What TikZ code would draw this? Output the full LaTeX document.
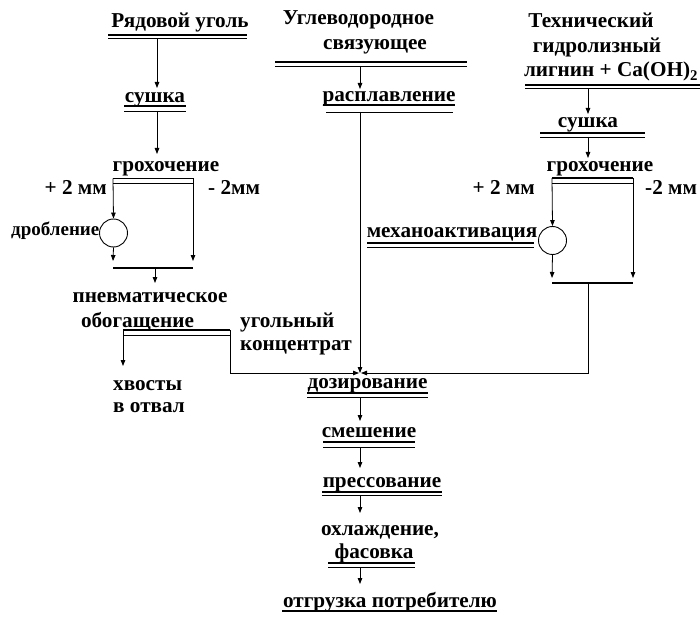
\documentclass[tikz,border=0pt]{standalone}
\usepackage{fontspec}
\setmainfont{Liberation Serif}
\usetikzlibrary{arrows.meta}
\begin{document}
\begin{tikzpicture}[x=1pt,y=-1pt,
  font=\fontsize{21.2}{24}\selectfont\bfseries,
  lbl/.style={inner sep=0pt, anchor=base},
  lw/.style={inner sep=0pt, anchor=base west},
  le/.style={inner sep=0pt, anchor=base east},
  thk/.style={line width=1.6pt},
  thn/.style={line width=0.6pt},
  ln/.style={line width=0.8pt},
  arr/.style={ln,-{Triangle[length=6pt,width=4.5pt]}},
  mill/.style={circle, draw, line width=0.9pt, minimum size=28pt, inner sep=0pt}]
\useasboundingbox (0,0) rectangle (700,617);

% ---------- left column ----------
\node[lbl] (ryad) at (180,28) {Рядовой уголь};
\draw[thk] (108,35) -- (247,35); \draw[thn] (108,38.5) -- (247,38.5);
\coordinate (a1s) at (157,38.5); \coordinate (a1e) at (157,88);
\draw[arr] (a1s) -- (a1e);
\node[lbl] (sushL) at (155,103) {сушка};
\draw[thk] (124,106) -- (186,106); \draw[thn] (124,111) -- (186,111);
\coordinate (a2s) at (157,111); \coordinate (a2e) at (157,154);
\draw[arr] (a2s) -- (a2e);
\node[lbl] (grL) at (166,172) {грохочение};
\node[le] (plL) at (107,195) {+ 2 мм};
\node[lw] (miL) at (208,195) {- 2мм};
\coordinate (bLl) at (113,178.5); \coordinate (bLr) at (193,178.5);
\draw[thk] (bLl) -- (bLr); \draw[thn] (113,183) -- (193,183);
\node[mill] (crL) at (113.5,233) {};
\node[le,font=\fontsize{19}{22}\selectfont\bfseries] (drob) at ([xshift=0.5pt]crL.west |- 0,236) {дробление};
\coordinate (bLbl) at (113,268); \coordinate (bLbr) at (193,268);
\draw[arr] (bLl) -- (crL.north);
\draw[arr] (crL.south) -- (113,261);
\draw[arr] (bLr) -- (193,261);
\draw[thk] (bLbl) -- (bLbr);
\coordinate (a3s) at (155,268); \coordinate (a3e) at (155,283);
\draw[arr] (a3s) -- (a3e);
\node[lbl] (pnev) at (150,302) {пневматическое};
\node[lbl] (obog) at (137.5,327) {обогащение};
\coordinate (sepl) at (123,330); \coordinate (sepr) at (230,330);
\draw[thk] (sepl) -- (sepr); \draw[thn] (123,335) -- (230,335);
\draw[arr] (sepl) -- (123,366);
\node[lw] (ugol) at (240,327) {угольный};
\node[lw] (konc) at (240,350) {концентрат};
\node[lw] (hvost) at (113,390) {хвосты};
\node[lw] (otval) at (113,412) {в отвал};

% ---------- middle column ----------
\node[lbl] (ugl) at (358.5,25) {Углеводородное};
\node[lbl] (svyaz) at (375,50) {связующее};
\draw[thk] (275,62) -- (467,62); \draw[thn] (275,66) -- (467,66);
\coordinate (m1s) at (360,66); \coordinate (m1e) at (360,89);
\draw[arr] (m1s) -- (m1e);
\node[lbl] (raspl) at (389,102) {расплавление};
\draw[thk] (323,105) -- (455,105); \draw[thn] (326,112) -- (453,112);
\coordinate (m2s) at (360,112); \coordinate (dz) at (360,373);
\draw[arr] (m2s) -- (dz);
\draw[arr] (sepr) |- ([xshift=-1pt]dz);
\node[lbl] (doz) at (367.5,388) {дозирование};
\draw[thk] (307,393) -- (428,393); \draw[thn] (307,397) -- (428,397);
\coordinate (m3s) at (360,397); \coordinate (m3e) at (360,421);
\draw[arr] (m3s) -- (m3e);
\node[lbl] (smesh) at (369,437) {смешение};
\draw[thk] (323,442) -- (415,442); \draw[thn] (323,447) -- (415,447);
\coordinate (m4s) at (360,447); \coordinate (m4e) at (360,468);
\draw[arr] (m4s) -- (m4e);
\node[lbl] (press) at (382,487) {прессование};
\draw[thk] (322,492) -- (442,492); \draw[thn] (322,495.5) -- (442,495.5);
\coordinate (m5s) at (360,495.5); \coordinate (m5e) at (360,513);
\draw[arr] (m5s) -- (m5e);
\node[lbl] (ohl) at (380,535) {охлаждение,};
\node[lbl] (fas) at (374,558) {фасовка};
\draw[thk] (328,563) -- (415,563); \draw[thn] (328,567) -- (415,567);
\coordinate (m6s) at (360,567); \coordinate (m6e) at (360,584);
\draw[arr] (m6s) -- (m6e);
\node[lbl] (otgr) at (390,607) {отгрузка потребителю};
\draw[thk] (282,611) -- (497,611);

% ---------- right column ----------
\node[lbl] (tehn) at (591,28) {Технический};
\node[lbl] (gidr) at (597,53) {гидролизный};
\node[lbl] (lign) at (611,77) {лигнин + Ca(OH)\textsubscript{2}};
\draw[thk] (525,85) -- (700,85); \draw[thn] (525,88.5) -- (700,88.5);
\coordinate (r1s) at (588,88.5); \coordinate (r1e) at (588,114);
\draw[arr] (r1s) -- (r1e);
\node[lbl] (sushR) at (588,128) {сушка};
\draw[thk] (540,133) -- (645,133); \draw[thn] (540,137) -- (645,137);
\coordinate (r2s) at (588,137); \coordinate (r2e) at (588,158);
\draw[arr] (r2s) -- (r2e);
\node[lbl] (grR) at (600,172) {грохочение};
\node[le] (plR) at (535,195) {+ 2 мм};
\node[lw] (miR) at (645,195) {-2 мм};
\coordinate (bRl) at (552,178); \coordinate (bRr) at (633,178);
\draw[thk] (bRl) -- (bRr); \draw[thn] (552,183) -- (633,183);
\node[mill] (crR) at (552.5,240.5) {};
\node[le] (meh) at ([xshift=-0.5pt]crR.west |- 0,238) {механоактивация};
\draw[thk] (367,243) -- (534,243); \draw[thn] (367,247) -- (534,247);
\draw[arr] (bRl) -- (crR.north);
\draw[arr] (crR.south) -- (552,278);
\draw[arr] (bRr) -- (633,278);
\coordinate (bRbl) at (552,283); \coordinate (bRbr) at (633,283);
\draw[thk] (bRbl) -- (bRbr);
\coordinate (r3s) at (588,283);
\draw[arr] (r3s) |- ([xshift=1pt]dz);
\end{tikzpicture}
\end{document}
